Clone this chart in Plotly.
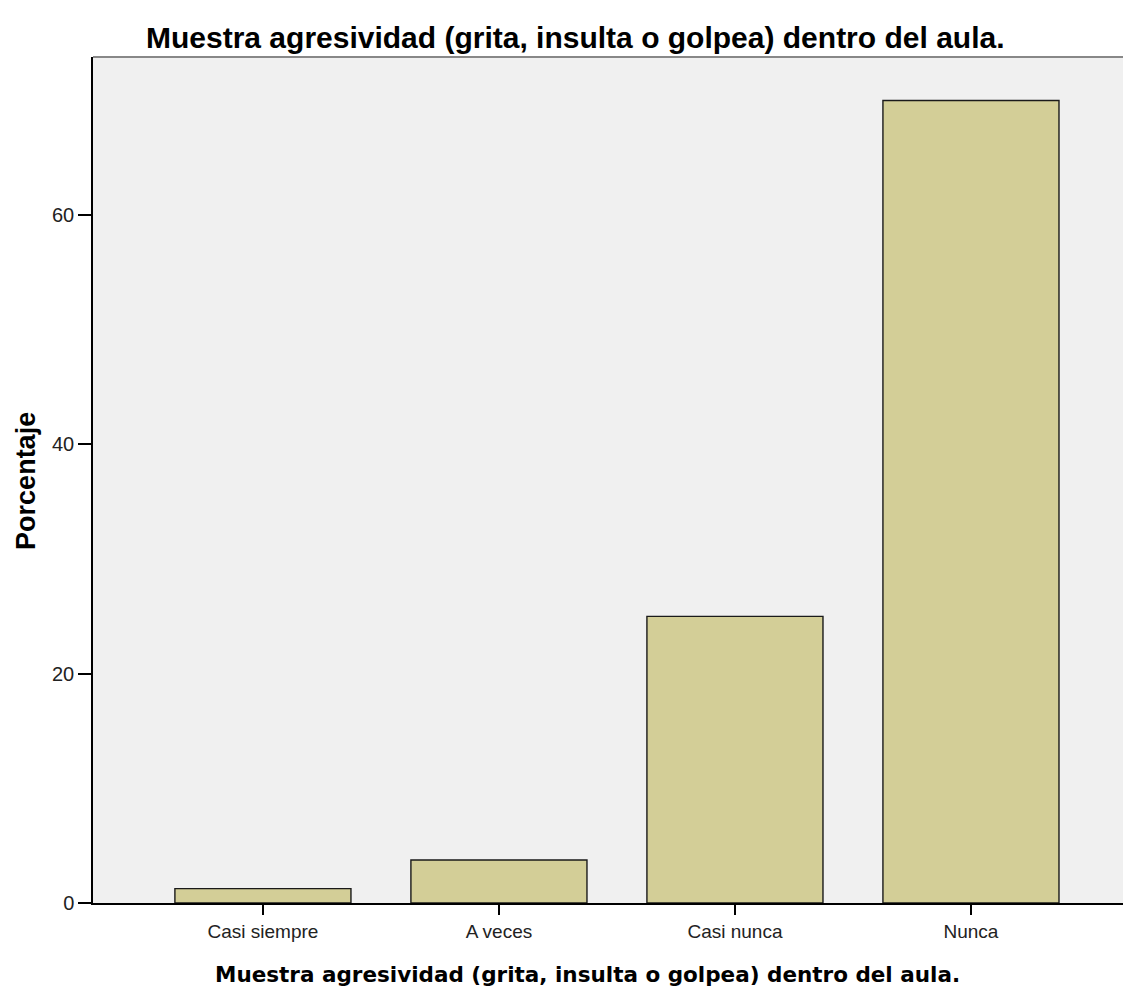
import plotly.graph_objects as go

categories = ["Casi siempre", "A veces", "Casi nunca", "Nunca"]
porcentaje = [1.25, 3.75, 25.0, 70.0]
y_ticks = [0, 20, 40, 60]

titulo = "Muestra agresividad (grita, insulta o golpea) dentro del aula."

fig = go.Figure()
fig.add_trace(go.Bar(
    x=categories,
    y=porcentaje,
    width=0.746,
    marker=dict(color="#D3CE97", line=dict(color="#1a1a1a", width=1.4)),
    hoverinfo="x+y",
))

# the page body adds 8px around the figure, so margins are shifted by that
fig.update_layout(
    width=1131,
    height=996,
    margin=dict(l=85, r=0, t=49, b=101),
    paper_bgcolor="white",
    plot_bgcolor="#F0F0F0",
    showlegend=False,
    xaxis=dict(
        range=[-0.72, 3.712],
        showline=True, linecolor="black", linewidth=1.5,
        ticks="outside", ticklen=10, tickcolor="black", tickwidth=1.5,
        tickfont=dict(family="Liberation Sans, Arial", size=19, color="#222"),
        showgrid=False,
    ),
    yaxis=dict(
        range=[0, 73.8],
        tickvals=y_ticks,
        showline=True, linecolor="black", linewidth=1.5,
        ticks="outside", ticklen=13, tickcolor="black", tickwidth=1.5,
        tickfont=dict(family="Liberation Sans, Arial", size=20, color="#222"),
        showgrid=False, zeroline=False,
    ),
    annotations=[
        dict(text="<b>" + titulo + "</b>", xref="paper", yref="paper",
             x=0.461, y=1.0225, showarrow=False, yanchor="middle",
             font=dict(family="Liberation Sans, Arial", size=30, color="black")),
        dict(text="<b>" + titulo + "</b>", xref="paper", yref="paper",
             x=0.473, y=-0.085, showarrow=False, yanchor="middle",
             font=dict(family="DejaVu Sans, Verdana", size=21.5, color="black")),
        dict(text="<b>Porcentaje</b>", xref="paper", yref="paper",
             x=-0.064, y=0.499, showarrow=False, textangle=-90,
             xanchor="center", yanchor="middle", borderpad=0,
             font=dict(family="Liberation Sans, Arial", size=27, color="black")),
    ],
    shapes=[
        dict(type="line", xref="paper", yref="paper", x0=0, x1=1, y0=1, y1=1,
             line=dict(color="#888888", width=2)),
    ],
)

fig.write_html("out.html")
